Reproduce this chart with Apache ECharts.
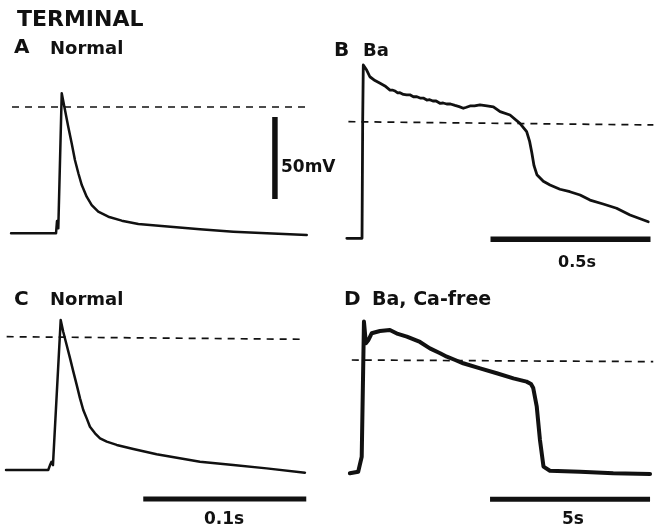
<!DOCTYPE html>
<html>
<head>
<meta charset="utf-8">
<script src="https://cdn.jsdelivr.net/npm/echarts@6/dist/echarts.min.js"></script>
<style>html,body{margin:0;padding:0;background:#fff}#c{width:654px;height:529px}</style>
</head>
<body>
<div id="c"></div>
<script>
// ---------- DATA (time, membrane potential in mV relative to the dashed reference) ----------
// Panel A: Normal (time in ms)
const traceA = [[-28.2,-77],[-0.6,-77],[0,-69.5],[0.8,-74],[2.9,8.4],[4.9,-1.8],[6.9,-12],[9.0,-22.1],[11.0,-32.3],[13.1,-40.4],[15.2,-47.6],[18.2,-54.7],[21.3,-59.8],[25.3,-63.8],[31.5,-66.9],[39.7,-69.3],[49.9,-71.3],[64.2,-72.6],[87.7,-74.6],[108.2,-76],[128.7,-77],[153.2,-78]];
// Panel B: Ba (time in ms)
const traceB = [[-49,-70.3],[-1.5,-70.3],[0.6,1.8],[2.5,35.4],[13,32.3],[23,28.2],[39,25.9],[55,24.2],[70,22.6],[86,20.1],[95,20.0],[102,19.5],[110,18.4],[117,18.5],[128,17.4],[138,17.1],[148,17.2],[159,16.0],[170,16.0],[180,15.2],[190,15.2],[201,14.0],[210,14.2],[220,13.4],[230,13.4],[242,12.0],[252,12.2],[263,11.6],[275,11.6],[289,10.7],[302,10.0],[315,9.0],[325,9.6],[336,10.4],[350,10.4],[367,11.0],[378,10.7],[389,10.4],[409,9.9],[430,6.9],[461,4.9],[492,-0.2],[513,-5.3],[522,-11],[529,-18],[536,-26],[545,-31.5],[565,-35.5],[586,-37.8],[617,-40.4],[648,-41.9],[680,-43.9],[711,-47],[752,-49.4],[794,-52],[836,-56.1],[893,-60.2]];
// Panel C: Normal (time in ms)
const traceC = [[-27.6,-80.5],[-1.7,-80.5],[-0.6,-77.5],[0.3,-75.5],[1.2,-77.5],[5.95,11],[7.5,3.8],[9.6,-4.3],[11.7,-12.4],[13.7,-20.5],[15.8,-28.7],[17.8,-36.8],[19.8,-43.9],[21.9,-49],[23.9,-54.1],[27,-58.1],[30.1,-61.2],[34.2,-63.2],[40.3,-65.2],[50.5,-67.7],[64.8,-70.9],[91.4,-75.4],[111.8,-77.4],[132.3,-79.5],[155.8,-82.1]];
// Panel D: Ba, Ca-free (time in s)
const traceD = [[-0.41,-69.1],[-0.15,-68.1],[-0.04,-59],[0.03,23.4],[0.09,10.2],[0.17,12.2],[0.27,16.3],[0.53,17.7],[0.84,18.3],[1.09,15.9],[1.37,14.2],[1.78,11],[2.09,7.1],[2.41,4.1],[2.62,2],[2.88,0],[3.13,-2],[3.66,-5.1],[4.18,-8.1],[4.70,-11.2],[5.11,-13.2],[5.25,-14.6],[5.32,-17.1],[5.43,-28.5],[5.53,-48.8],[5.64,-65],[5.84,-67.5],[6.78,-68.1],[7.82,-69.1],[8.97,-69.5]];

// dashed reference line (0 mV): start / end points per panel
const dashA = [[-27.6,0],[154,0]];
const dashB = [[-44,0.8],[909,-1.2]];
const dashC = [[-27.2,0.8],[155.8,-0.8]];
const dashD = [[-0.35,0],[9.07,-1.0]];

// scale bars
const voltBar = 50;        // mV
const timeBarC = 100;      // ms  (0.1 s)
const timeBarB = 500;      // ms  (0.5 s)
const timeBarD = 5;        // s
const labels = {title:'TERMINAL', A:'Normal', B:'Ba', C:'Normal', D:'Ba, Ca-free',
  volt:'50mV', timeB:'0.5s', timeC:'0.1s', timeD:'5s'};

// ---------- LAYOUT ----------
const PXMV = 1.64;
const layout = {
  A:{l:8,r:312,t:75,b:245,x0:57,y0:107,sx:1.63},
  B:{l:345,r:652,t:55,b:245,x0:362.5,y0:123,sx:0.32},
  C:{l:4,r:310,t:300,b:505,x0:51,y0:338,sx:1.63},
  D:{l:345,r:652,t:305,b:505,x0:363,y0:360,sx:32}
};
const keys = ['A','B','C','D'];
const grids=[], xAxes=[], yAxes=[];
keys.forEach((k,i)=>{
  const L = layout[k];
  grids.push({left:L.l, top:L.t, width:L.r-L.l, height:L.b-L.t, show:false});
  xAxes.push({type:'value', gridIndex:i, show:false, min:(L.l-L.x0)/L.sx, max:(L.r-L.x0)/L.sx});
  yAxes.push({type:'value', gridIndex:i, show:false, min:-(L.b-L.y0)/PXMV, max:(L.y0-L.t)/PXMV});
});

const ink = '#111';
function line(i, data, w){
  return {type:'line', xAxisIndex:i, yAxisIndex:i, data:data, symbol:'none',
    silent:true, clip:false, animation:false,
    lineStyle:{color:ink, width:w, cap:'round', join:'round'}};
}
function dash(i, data){
  return {type:'line', xAxisIndex:i, yAxisIndex:i, data:data, symbol:'none', silent:true, clip:false, animation:false,
    lineStyle:{color:ink, width:1.7, type:[7,6]}};
}
function bar(i, data, w){
  return {type:'line', xAxisIndex:i, yAxisIndex:i, data:data, symbol:'none', silent:true, clip:false, animation:false,
    lineStyle:{color:ink, width:w, cap:'butt'}};
}

// scale bar anchors (in each panel's data units)
const vBarT = 133.7, vBarTop = -6.1;
const bBarStart = 400, bBarV = -70.9;
const cBarStart = 56.6, cBarV = -98.2;
const dBarStart = 3.97, dBarV = -84.9;

const series = [
  line(0, traceA, 2.5), dash(0, dashA),
  bar(0, [[vBarT, vBarTop],[vBarT, vBarTop-voltBar]], 5.5),
  line(1, traceB, 2.8), dash(1, dashB),
  bar(1, [[bBarStart, bBarV],[bBarStart+timeBarB, bBarV]], 5.5),
  line(2, traceC, 2.5), dash(2, dashC),
  bar(2, [[cBarStart, cBarV],[cBarStart+timeBarC, cBarV]], 5),
  line(3, traceD, 4), dash(3, dashD),
  bar(3, [[dBarStart, dBarV],[dBarStart+timeBarD, dBarV]], 5)
];

const F = 'DejaVu Sans';
function txt(s, x, y, size, align){
  return {type:'text', x:x, y:y, silent:true,
    style:{text:s, font:'bold '+size+'px "'+F+'"', fill:ink, textAlign:align||'left', textVerticalAlign:'middle'}};
}
const graphic = [
  txt(labels.title, 17, 20, 22),
  txt('A', 14, 48, 20), txt(labels.A, 50, 49, 18),
  txt('B', 334, 51, 20), txt(labels.B, 363, 51, 18),
  txt('C', 14, 300, 20), txt(labels.C, 50, 300, 18),
  txt('D', 344, 300, 20), txt(labels.D, 372, 300, 19),
  txt(labels.volt, 281, 168, 17),
  txt(labels.timeB, 577, 263, 16, 'center'),
  txt(labels.timeC, 224, 520, 17, 'center'),
  txt(labels.timeD, 573, 520, 17, 'center')
];

const chart = echarts.init(document.getElementById('c'), null, {renderer:'canvas'});
chart.setOption({backgroundColor:'#fff', animation:false, grid:grids, xAxis:xAxes, yAxis:yAxes, series:series, graphic:graphic});
</script>
</body>
</html>
